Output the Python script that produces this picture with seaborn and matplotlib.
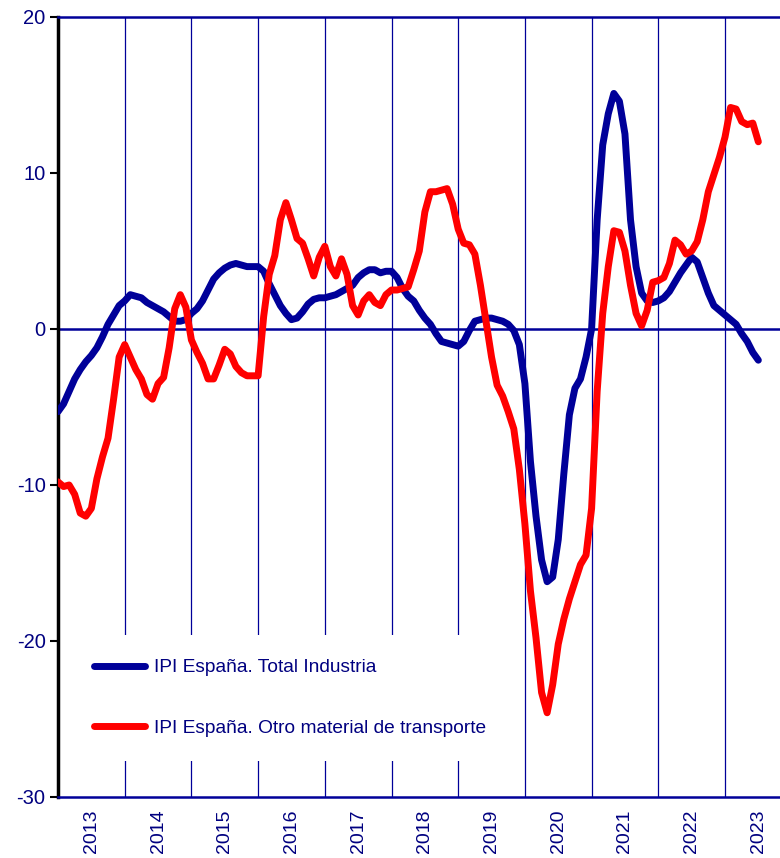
import numpy as np
import pandas as pd
import matplotlib
matplotlib.use("Agg")
import matplotlib.pyplot as plt
import seaborn as sns

# datos mensuales, ene 2013 - jul 2023
total_industria = [
    -5.3, -4.8, -4.0, -3.2, -2.6, -2.1, -1.7, -1.2, -0.5, 0.3, 0.9, 1.5,
    1.8, 2.2, 2.1, 2.0, 1.7, 1.5, 1.3, 1.1, 0.8, 0.5, 0.5, 0.6,
    1.0, 1.3, 1.8, 2.5, 3.2, 3.6, 3.9, 4.1, 4.2, 4.1, 4.0, 4.0,
    4.0, 3.7, 2.9, 2.2, 1.5, 1.0, 0.6, 0.7, 1.1, 1.6, 1.9, 2.0,
    2.0, 2.1, 2.2, 2.4, 2.6, 2.8, 3.3, 3.6, 3.8, 3.8, 3.6, 3.7,
    3.7, 3.3, 2.6, 2.1, 1.8, 1.2, 0.7, 0.3, -0.3, -0.8, -0.9, -1.0,
    -1.1, -0.8, -0.1, 0.5, 0.6, 0.7, 0.7, 0.6, 0.5, 0.3, -0.1, -1.0,
    -3.5, -8.5, -12.0, -14.8, -16.2, -15.9, -13.5, -9.3, -5.5, -3.8, -3.2, -1.8,
    0.0, 7.0, 11.8, 13.8, 15.1, 14.6, 12.5, 7.0, 4.0, 2.3, 1.8, 1.7,
    1.8, 2.0, 2.4, 3.0, 3.6, 4.1, 4.6, 4.3, 3.3, 2.3, 1.5, 1.2,
    0.9, 0.6, 0.3, -0.3, -0.8, -1.5, -2.0,
]
otro_material = [
    -9.8, -10.1, -10.0, -10.6, -11.8, -12.0, -11.5, -9.6, -8.2, -7.0, -4.5, -1.8,
    -1.0, -1.8, -2.6, -3.2, -4.2, -4.5, -3.5, -3.1, -1.2, 1.3, 2.2, 1.4,
    -0.7, -1.5, -2.2, -3.2, -3.2, -2.3, -1.3, -1.6, -2.4, -2.8, -3.0, -3.0,
    -3.0, 0.8, 3.5, 4.7, 7.0, 8.1, 7.0, 5.8, 5.5, 4.5, 3.4, 4.6,
    5.3, 4.0, 3.4, 4.5, 3.5, 1.5, 0.9, 1.8, 2.2, 1.7, 1.5, 2.2,
    2.5, 2.5, 2.6, 2.7, 3.8, 5.0, 7.5, 8.8, 8.8, 8.9, 9.0, 8.0,
    6.4, 5.5, 5.4, 4.8, 2.8, 0.5, -1.8, -3.6, -4.3, -5.3, -6.4, -9.0,
    -12.5, -16.8, -19.8, -23.3, -24.6, -22.8, -20.2, -18.6, -17.3, -16.2, -15.1, -14.5,
    -11.5, -4.0, 1.0, 4.0, 6.3, 6.2, 5.0, 2.8, 1.0, 0.2, 1.2, 3.0,
    3.1, 3.3, 4.2, 5.7, 5.4, 4.8, 5.0, 5.6, 7.0, 8.8, 9.9, 11.0,
    12.3, 14.2, 14.1, 13.3, 13.1, 13.2, 12.0,
]
years = list(range(2013, 2024))
series = ["IPI España. Total Industria", "IPI España. Otro material de transporte"]
colors = ["#000099", "#FF0000"]

fecha = 2013 + np.arange(len(total_industria)) / 12
df = pd.concat([
    pd.DataFrame({"fecha": fecha, "valor": total_industria, "serie": series[0]}),
    pd.DataFrame({"fecha": fecha, "valor": otro_material, "serie": series[1]}),
])

sns.set_style("white")
plt.rcParams["font.family"] = ["Liberation Sans", "DejaVu Sans"]
plt.rcParams["axes.unicode_minus"] = False
navy = "#000080"

fig = plt.figure(figsize=(7.8, 8.58), dpi=100)
ax = fig.add_axes([58 / 780, 1 - 797 / 858, 1 - 58 / 780, (797 - 17) / 858])

sns.lineplot(data=df, x="fecha", y="valor", hue="serie", hue_order=series,
             palette=colors, linewidth=5, ax=ax, zorder=3)

ax.set_xlim(2013, 2013 + (780 - 58) / 66.7)
ax.set_ylim(-30, 20)
ax.set_yticks([-30, -20, -10, 0, 10, 20])

# rejilla vertical en el cambio de año, etiquetas centradas en cada año
ax.set_xticks(years[1:])
ax.set_xticklabels([])
ax.set_xticks([y + 0.5 for y in years], minor=True)
ax.set_xticklabels([str(y) for y in years], minor=True, rotation=90,
                   fontsize=14, color=navy)
ax.grid(axis="x", which="major", color="#000099", linewidth=0.9, zorder=1)
ax.tick_params(axis="x", which="both", length=0, pad=9)
ax.tick_params(axis="y", which="major", length=6, width=1.5, color="black",
               direction="out", labelsize=14.5, labelcolor=navy, pad=3, left=True)

ax.axhline(0, color="#000099", linewidth=1.8, zorder=2)

ax.spines["left"].set_color("black")
ax.spines["left"].set_linewidth(2.5)
ax.spines["top"].set_color("#000099")
ax.spines["top"].set_linewidth(1.8)
ax.spines["bottom"].set_color("#000099")
ax.spines["bottom"].set_linewidth(1.8)
ax.spines["right"].set_visible(False)

ax.set_xlabel("")
ax.set_ylabel("")

leg = ax.legend(loc="upper left", bbox_to_anchor=(12 / 722, (797 - 635) / 780),
                borderaxespad=0, frameon=True, fancybox=False, framealpha=1,
                facecolor="white", edgecolor="none", fontsize=13.8,
                handlelength=2.65, handletextpad=0.5, labelspacing=2.25,
                borderpad=1.25)
leg.set_zorder(5)
for t in leg.get_texts():
    t.set_color(navy)

fig.savefig("out.png", dpi=100)
